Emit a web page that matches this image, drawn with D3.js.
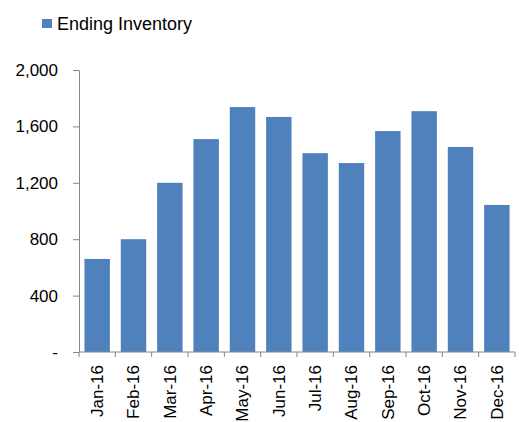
<!DOCTYPE html>
<html lang="en">
<head>
<meta charset="UTF-8">
<title>Ending Inventory</title>
<script src="https://d3js.org/d3.v7.min.js"></script>
<style>
    body { margin: 0; background: #fff; font-family: "Liberation Sans", Arial, sans-serif; }
    .axis path, .axis line { stroke: #868686; }
    .axis text { font-size: 17px; fill: #000; font-family: "Liberation Sans", Arial, sans-serif; }
</style>
</head>
<body>
<svg width="519" height="422"></svg>
<script>
    // data
    const months = ["Jan-16", "Feb-16", "Mar-16", "Apr-16", "May-16", "Jun-16",
                    "Jul-16", "Aug-16", "Sep-16", "Oct-16", "Nov-16", "Dec-16"];
    const inventory = [660, 800, 1200, 1510, 1737, 1667, 1410, 1340, 1567, 1708, 1454, 1043];
    const yTicks = [0, 400, 800, 1200, 1600, 2000];
    const seriesName = "Ending Inventory";

    const data = months.map((m, i) => ({ month: m, value: inventory[i] }));

    const svg = d3.select("svg");
    const margin = { top: 70, right: 4, bottom: 70, left: 79 };
    const width = 519 - margin.left - margin.right,
          height = 422 - margin.top - margin.bottom;

    const g = svg.append("g").attr("transform", `translate(${margin.left},${margin.top})`);

    const x = d3.scaleBand().domain(months).range([0, width]).padding(0.3).paddingOuter(0.15);
    const y = d3.scaleLinear().domain([0, 2000]).range([height, 0]);

    // bars
    g.selectAll(".bar")
        .data(data)
        .enter().append("rect")
        .attr("class", "bar")
        .attr("x", d => x(d.month))
        .attr("y", d => y(d.value))
        .attr("width", x.bandwidth())
        .attr("height", d => height - y(d.value))
        .attr("fill", "#4F81BD");

    // y axis
    g.append("g")
        .attr("class", "axis")
        .call(d3.axisLeft(y).tickValues(yTicks).tickSize(6).tickSizeOuter(0).tickPadding(15)
            .tickFormat(d => d === 0 ? "-" : d3.format(",")(d)));

    // x axis: line + ticks at band boundaries
    const xAxis = g.append("g").attr("class", "axis").attr("transform", `translate(0,${height})`);
    xAxis.append("line").attr("x1", 0).attr("x2", width).attr("stroke-width", 1);
    const bounds = d3.range(months.length + 1).map(i => i * (width / months.length));
    xAxis.selectAll(".tk").data(bounds).enter().append("line")
        .attr("class", "tk")
        .attr("x1", d => d).attr("x2", d => d)
        .attr("y1", 0).attr("y2", 5);
    xAxis.selectAll(".lbl").data(months).enter().append("text")
        .attr("class", "lbl")
        .attr("transform", d => `translate(${x(d) + x.bandwidth() / 2},13) rotate(-90)`)
        .attr("dy", "0.35em")
        .attr("text-anchor", "end")
        .text(d => d);

    // legend
    const legend = svg.append("g").attr("transform", "translate(42,19)");
    legend.append("rect").attr("width", 10).attr("height", 9).attr("fill", "#4F81BD");
    legend.append("text").attr("x", 15).attr("y", 11)
        .attr("font-size", "18px").attr("fill", "#000")
        .text(seriesName);
</script>
</body>
</html>
